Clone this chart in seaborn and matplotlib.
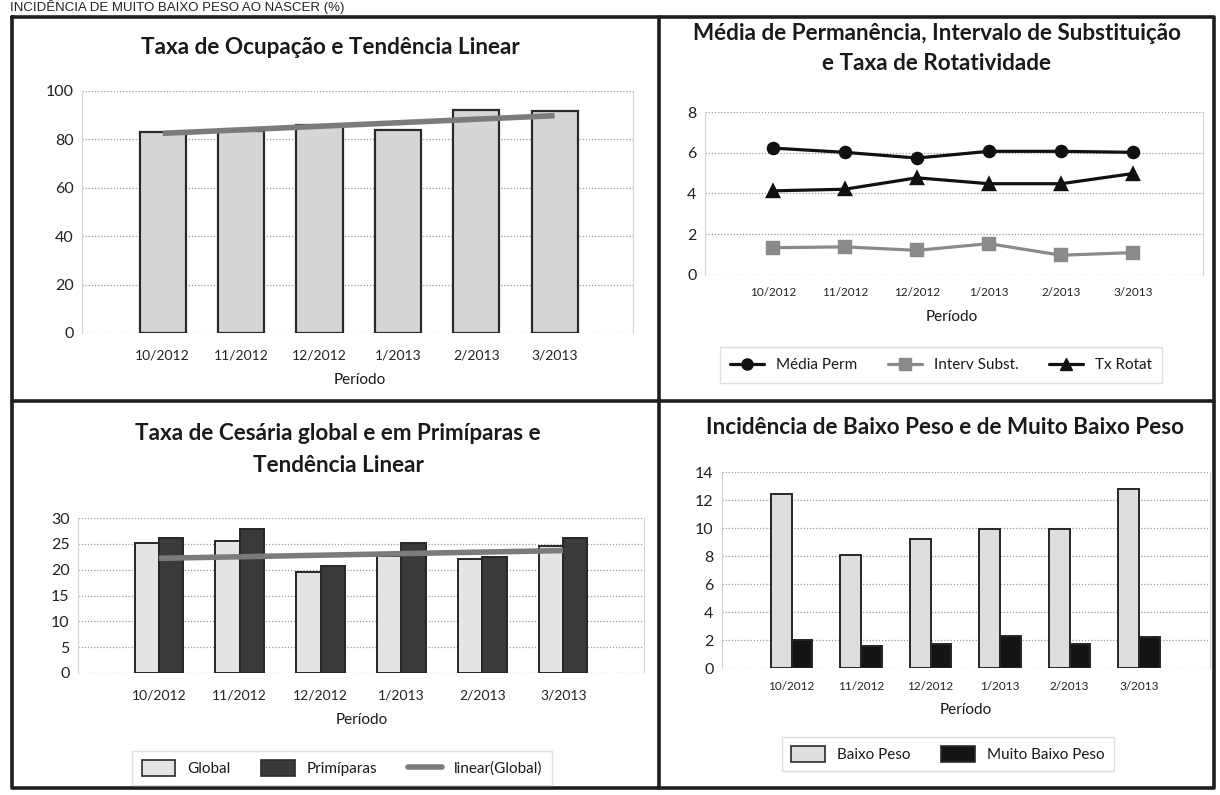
import numpy as np
import pandas as pd
import matplotlib
matplotlib.use("Agg")
import matplotlib.pyplot as plt
import seaborn as sns
from matplotlib.patches import Patch
from matplotlib.lines import Line2D

periodos = ['10/2012', '11/2012', '12/2012', '1/2013', '2/2013', '3/2013']
taxa_ocupacao = [83.2, 83.6, 86.0, 83.9, 92.1, 91.7]
tendencia_ocupacao = [82.5, 89.8]      # pontas da linha de tendencia (10/2012 e 3/2013)
media_perm = [6.23, 6.02, 5.74, 6.07, 6.07, 6.02]
interv_subst = [1.34, 1.38, 1.21, 1.54, 0.97, 1.10]
tx_rotat = [4.13, 4.21, 4.77, 4.48, 4.48, 4.98]
cesaria_global = [25.1, 25.5, 19.5, 22.7, 22.1, 24.5]
cesaria_primiparas = [26.2, 27.8, 20.8, 25.1, 22.4, 26.2]
tendencia_cesaria = [22.2, 23.7]
baixo_peso = [12.4, 8.1, 9.2, 9.9, 9.9, 12.8]
muito_baixo_peso = [2.0, 1.6, 1.7, 2.3, 1.75, 2.25]

sns.set_theme(style='white')
plt.rcParams['font.family'] = ['Lato', 'DejaVu Sans']
plt.rcParams['text.color'] = '#1a1a1a'

W, H = 1220, 795
fig = plt.figure(figsize=(W / 100, H / 100), dpi=100)


def area(x0, y0, x1, y1):
    return fig.add_axes([x0 / W, 1 - y1 / H, (x1 - x0) / W, (y1 - y0) / H])


def fx(x):
    return x / W


def fy(y):
    return 1 - y / H


def estilo(ax, ymax, passo, xsize, pad, xlim):
    ax.set_ylim(0, ymax)
    ax.set_yticks(np.arange(0, ymax + 1, passo))
    ax.set_xlim(*xlim)
    ax.grid(axis='y', color='#9a9a9a', linestyle=(0, (1, 1.5)), lw=0.9)
    ax.grid(axis='x', visible=False)
    ax.set_axisbelow(True)
    for s in ['top', 'bottom']:
        ax.spines[s].set_visible(False)
    for s in ['left', 'right']:
        ax.spines[s].set_color('#d4d4d4')
        ax.spines[s].set_linewidth(0.8)
    ax.tick_params(axis='y', length=0, labelsize=11.5, pad=6, colors='#222222')
    ax.tick_params(axis='x', length=0, labelsize=xsize, pad=pad, colors='#222222')
    ax.set_xlabel('')
    ax.set_ylabel('')
    ax.set_facecolor('none')


# moldura do relatorio
bg = fig.add_axes([0, 0, 1, 1])
bg.set_xlim(0, W)
bg.set_ylim(H, 0)
bg.axis('off')
bg.plot([12, 1214, 1214, 12, 12], [17, 17, 788, 788, 17], color='#1e1e1e', lw=2.6)
bg.plot([659, 659], [17, 788], color='#1e1e1e', lw=2.6)
bg.plot([12, 1214], [401, 401], color='#1e1e1e', lw=2.6)

fig.text(fx(10), fy(11), 'INCIDÊNCIA DE MUITO BAIXO PESO AO NASCER (%)',
         family=['Liberation Sans', 'DejaVu Sans'], fontsize=9.5, va='baseline', color='#222222')

# 1 - taxa de ocupacao
ax1 = area(82, 91, 633, 333)
sns.barplot(x=periodos, y=taxa_ocupacao, color='#d6d6d6', edgecolor='#2a2a2a',
            linewidth=1.6, width=0.59, saturation=1, ax=ax1)
ax1.plot([0, 5], tendencia_ocupacao, color='#7b7b7b', lw=4, solid_capstyle='butt', zorder=5)
estilo(ax1, 100, 20, 10, 12, (-1.03, 6.0))
fig.text(fx(330), fy(47), 'Taxa de Ocupação e Tendência Linear', ha='center', va='center',
         fontsize=16.2, weight='bold')
fig.text(fx(360), fy(380), 'Período', ha='center', va='center', fontsize=11)

# 2 - media de permanencia etc.
ax2 = area(705, 112, 1203, 275)
df2 = pd.DataFrame({
    'Período': periodos * 3,
    'valor': media_perm + interv_subst + tx_rotat,
    'serie': ['Média Perm'] * 6 + ['Interv Subst.'] * 6 + ['Tx Rotat'] * 6,
})
sns.pointplot(data=df2, x='Período', y='valor', hue='serie',
              palette=['#111111', '#8a8a8a', '#111111'], markers=['o', 's', '^'],
              linestyles=['-', '-', '-'], markersize=8, linewidth=2.3,
              errorbar=None, legend=False, ax=ax2)
estilo(ax2, 8, 2, 8.5, 9, (-0.94, 5.97))
fig.text(fx(937), fy(33), 'Média de Permanência, Intervalo de Substituição', ha='center',
         va='center', fontsize=16.2, weight='bold')
fig.text(fx(937), fy(63), 'e Taxa de Rotatividade', ha='center', va='center',
         fontsize=16.2, weight='bold')
fig.text(fx(952), fy(317), 'Período', ha='center', va='center', fontsize=11)
h2 = [Line2D([], [], color='#111111', marker='o', lw=2.3, ms=8),
      Line2D([], [], color='#8a8a8a', marker='s', lw=2.3, ms=8),
      Line2D([], [], color='#111111', marker='^', lw=2.3, ms=8)]
fig.legend(h2, ['Média Perm', 'Interv Subst.', 'Tx Rotat'], loc='center',
           bbox_to_anchor=(fx(941), fy(365)), ncol=3, fontsize=11, frameon=True,
           fancybox=False, edgecolor='#d8d8d8', handlelength=2.2, columnspacing=2.0,
           borderpad=0.7)

# 3 - cesaria
ax3 = area(78, 518, 644, 673)
df3 = pd.DataFrame({
    'Período': periodos * 2,
    'valor': cesaria_global + cesaria_primiparas,
    'serie': ['Global'] * 6 + ['Primíparas'] * 6,
})
sns.barplot(data=df3, x='Período', y='valor', hue='serie', palette=['#e4e4e4', '#3a3a3a'],
            edgecolor='#262626', linewidth=1.4, width=0.6, saturation=1, legend=False, ax=ax3)
ax3.plot([0, 5], tendencia_cesaria, color='#7b7b7b', lw=4, solid_capstyle='butt', zorder=5)
estilo(ax3, 30, 5, 10, 12, (-1.0, 6.0))
fig.text(fx(338), fy(433), 'Taxa de Cesária global e em Primíparas e', ha='center',
         va='center', fontsize=16.2, weight='bold')
fig.text(fx(338), fy(465), 'Tendência Linear', ha='center', va='center',
         fontsize=16.2, weight='bold')
fig.text(fx(362), fy(720), 'Período', ha='center', va='center', fontsize=11)
h3 = [Patch(facecolor='#e4e4e4', edgecolor='#2a2a2a', lw=1.2),
      Patch(facecolor='#3a3a3a', edgecolor='#2a2a2a', lw=1.2),
      Line2D([], [], color='#7b7b7b', lw=4)]
fig.legend(h3, ['Global', 'Primíparas', 'linear(Global)'], loc='center',
           bbox_to_anchor=(fx(342), fy(768)), ncol=3, fontsize=11, frameon=True,
           fancybox=False, edgecolor='#d8d8d8', handlelength=2.2, handleheight=1.2,
           columnspacing=2.0, borderpad=0.6)

# 4 - baixo peso
ax4 = area(722, 472, 1210, 668)
df4 = pd.DataFrame({
    'Período': periodos * 2,
    'valor': baixo_peso + muito_baixo_peso,
    'serie': ['Baixo Peso'] * 6 + ['Muito Baixo Peso'] * 6,
})
sns.barplot(data=df4, x='Período', y='valor', hue='serie', palette=['#dedede', '#141414'],
            edgecolor='#262626', linewidth=1.4, width=0.6, saturation=1, legend=False, ax=ax4)
estilo(ax4, 14, 2, 8.5, 9, (-1.0, 6.02))
fig.text(fx(945), fy(427), 'Incidência de Baixo Peso e de Muito Baixo Peso', ha='center',
         va='center', fontsize=16.2, weight='bold')
fig.text(fx(966), fy(710), 'Período', ha='center', va='center', fontsize=11)
h4 = [Patch(facecolor='#dedede', edgecolor='#2a2a2a', lw=1.2),
      Patch(facecolor='#141414', edgecolor='#2a2a2a', lw=1.2)]
fig.legend(h4, ['Baixo Peso', 'Muito Baixo Peso'], loc='center',
           bbox_to_anchor=(fx(948), fy(754)), ncol=2, fontsize=11, frameon=True,
           fancybox=False, edgecolor='#d8d8d8', handlelength=2.2, handleheight=1.2,
           columnspacing=2.0, borderpad=0.6)

fig.savefig('out.png', dpi=100, facecolor='white')
